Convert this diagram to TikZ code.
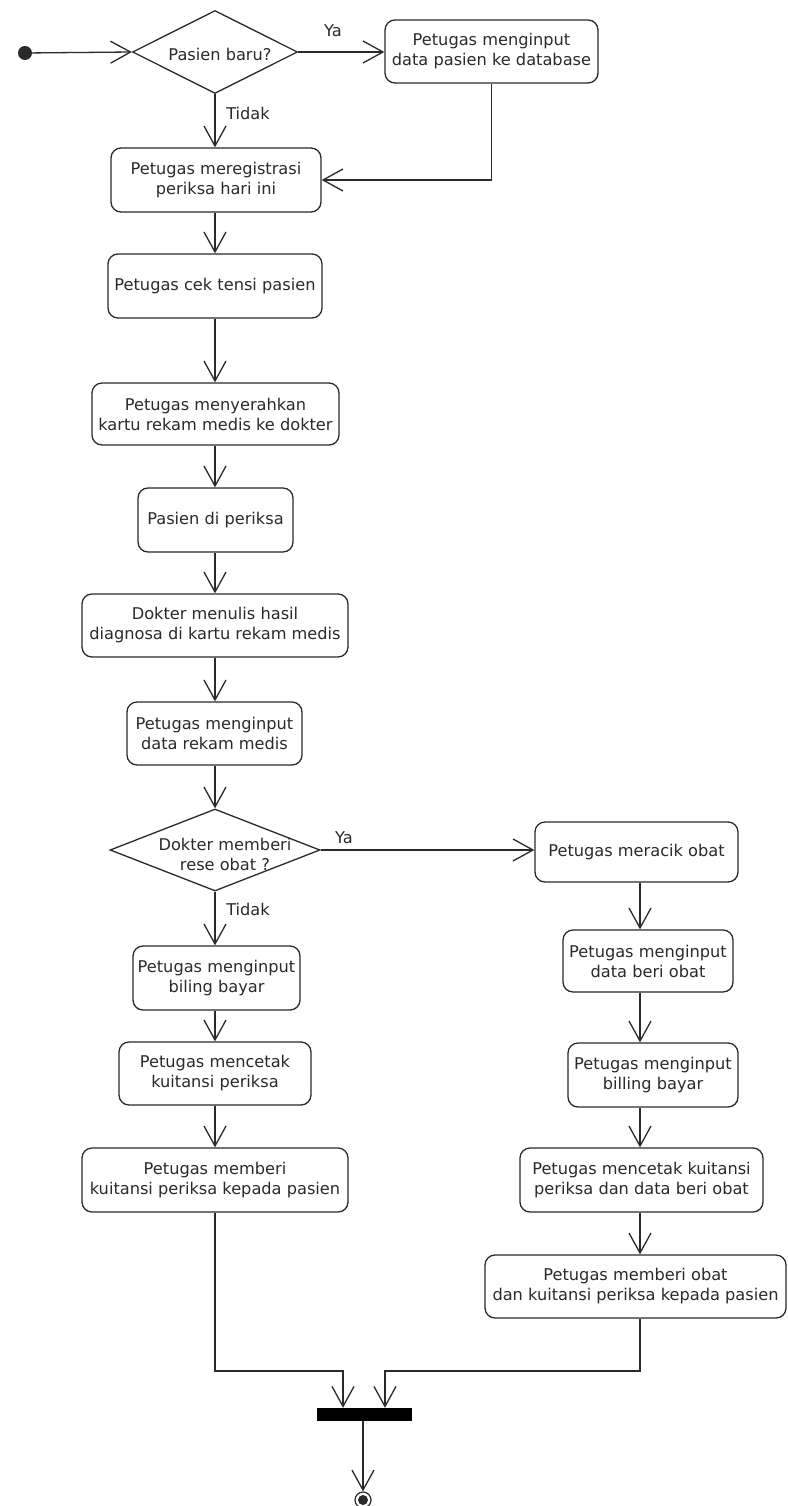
\documentclass[tikz,border=0pt]{standalone}
\usepackage{fontspec}
\setmainfont{DejaVu Sans}
\usetikzlibrary{arrows.meta,shapes.geometric}
\definecolor{ink}{HTML}{2A2A2A}
\begin{document}
\begin{tikzpicture}[x=1pt,y=-1pt,
  every node/.style={font=\fontsize{16.2}{20}\selectfont, text=ink},
  act/.style={draw=ink, line width=1.3pt, rounded corners=10pt, inner sep=0pt, align=center},
  sz/.style 2 args={minimum width=#1pt, minimum height=#2pt},
  dec/.style={draw=ink, line width=1.3pt, diamond, inner sep=0pt},
  lbl/.style={inner sep=0pt, align=center},
  arr/.style={draw=ink, line width=1.3pt, -{Straight Barb[length=20pt,width=22pt,line width=1.3pt]}},
  flow/.style={draw=ink, line width=1.3pt},
  startdot/.style={circle, fill=ink, inner sep=0pt, minimum size=14pt},
  enddot/.style={circle, draw=ink, line width=1.2pt, inner sep=0pt, minimum size=16pt},
  joinbar/.style={rectangle, fill=black, inner sep=0pt, minimum width=95pt, minimum height=13pt}
]
\fill[white] (0,0) rectangle (787,1506);
\useasboundingbox (0,0) rectangle (787,1506);

% column guides
\coordinate (lcol) at (215,0);
\coordinate (rcol) at (640,0);

% initial node and first decision
\node[startdot] (start) at (25,53) {};
\node[dec, sz={165}{83}] (d1) at (215,52) {};
\node[lbl] at (220,54) {Pasien baru?};
\node[act, sz={213}{63}] (inp) at (491.5,51.5) {Petugas menginput\\data pasien ke database};

% main column
\node[act, sz={210}{64}] (reg) at (216,180) {Petugas meregistrasi\\periksa hari ini};
\node[act, sz={214}{64}] (cek) at (215,286) {Petugas cek tensi pasien};
\node[act, sz={247}{62}] (serah) at (215.5,414) {Petugas menyerahkan\\kartu rekam medis ke dokter};
\node[act, sz={155}{64}] (periksa) at (215.5,520) {Pasien di periksa};
\node[act, sz={266}{63}] (diag) at (215,625.5) {Dokter menulis hasil\\diagnosa di kartu rekam medis};
\node[act, sz={175}{63}] (rekam) at (214.5,733.5) {Petugas menginput\\data rekam medis};

% second decision
\node[dec, sz={210}{82}] (d2) at (215,850) {};
\node[lbl] at (225,854) {Dokter memberi\\rese obat ?};

% branch without prescription
\node[act, sz={167}{64}] (biling) at (216.5,978) {Petugas menginput\\biling bayar};
\node[act, sz={192}{63}] (cetakA) at (215,1073.5) {Petugas mencetak\\kuitansi periksa};
\node[act, sz={266}{64}] (kuit) at (215,1180) {Petugas memberi\\kuitansi periksa kepada pasien};

% branch with prescription
\node[act, sz={203}{60}] (racik) at (636.5,852) {Petugas meracik obat};
\node[act, sz={170}{62}] (beri) at (648,961) {Petugas menginput\\data beri obat};
\node[act, sz={170}{64}] (bill) at (653,1075) {Petugas menginput\\billing bayar};
\node[act, sz={243}{64}] (cetakB) at (641.5,1180) {Petugas mencetak kuitansi\\periksa dan data beri obat};
\node[act, sz={301}{63}] (obat) at (635.5,1286.5) {Petugas memberi obat\\dan kuitansi periksa kepada pasien};

% join and final node
\node[joinbar] (bar) at (364.5,1414.5) {};
\node[enddot] (end) at (363,1500) {};
\fill[ink] (end.center) circle (5pt);

% guard labels
\node[lbl] at (333,31) {Ya};
\node[lbl] at (248,113) {Tidak};
\node[lbl] at (344,838) {Ya};
\node[lbl] at (248,909) {Tidak};

% connectors
\draw[arr] (start) -- (d1.west);
\draw[arr] (d1.east) -- (d1.east -| inp.west);
\draw[arr] (d1.south) -- (d1.south |- reg.north);
\draw[arr] (inp.south) |- (reg.east);
\draw[arr] (reg.south -| lcol) -- (cek.north -| lcol);
\draw[arr] (cek.south -| lcol) -- (serah.north -| lcol);
\draw[arr] (serah.south -| lcol) -- (periksa.north -| lcol);
\draw[arr] (periksa.south -| lcol) -- (diag.north -| lcol);
\draw[arr] (diag.south -| lcol) -- (rekam.north -| lcol);
\draw[arr] (rekam.south -| lcol) -- (d2.north);
\draw[arr] (d2.south) -- (d2.south |- biling.north);
\draw[arr] (d2.east) -- (d2.east -| racik.west);
\draw[arr] (biling.south -| lcol) -- (cetakA.north -| lcol);
\draw[arr] (cetakA.south -| lcol) -- (kuit.north -| lcol);
\draw[arr] (racik.south -| rcol) -- (beri.north -| rcol);
\draw[arr] (beri.south -| rcol) -- (bill.north -| rcol);
\draw[arr] (bill.south -| rcol) -- (cetakB.north -| rcol);
\draw[arr] (cetakB.south -| rcol) -- (obat.north -| rcol);

\coordinate (jl) at (343,1371);
\coordinate (jr) at (385,1371);
\draw[arr] (kuit.south) |- (jl) -- (bar.north -| jl);
\draw[arr] (obat.south -| rcol) |- (jr) -- (bar.north -| jr);
\draw[arr] (end |- bar.south) -- (end.north);
\end{tikzpicture}
\end{document}
